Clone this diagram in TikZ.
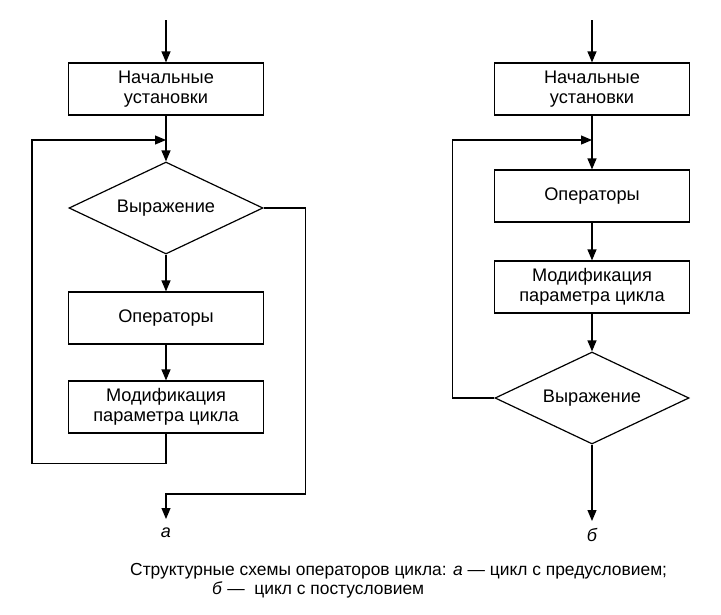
\documentclass[tikz,border=0pt]{standalone}
\usepackage{fontspec}
\setmainfont{Liberation Sans}
\usetikzlibrary{arrows.meta,shapes.geometric}

\begin{document}
\begin{tikzpicture}[
  x=1pt,y=1pt,
  block/.style={
    draw=black,
    line width=1.2pt,
    align=center,
    inner sep=0pt,
    minimum width=195pt,
    minimum height=52pt,
    font=\fontsize{18.2}{20.5}\selectfont
  },
  test/.style={
    block,
    shape=diamond,
    aspect=2.1,
    minimum width=194pt,
    minimum height=92pt
  },
  flow/.style={
    -{Triangle[length=11pt,width=9pt]},
    draw=black,
    line width=1.2pt
  },
  tag/.style={font=\fontsize{18}{20}\selectfont\itshape},
  caption/.style={anchor=west,inner sep=0pt,font=\fontsize{17.4}{19}\selectfont}
]
\useasboundingbox (0,0) rectangle (721,-614);

% Loop with precondition (a)
\coordinate (startA) at (166,-20);
\node[block] (initA) at (166,-89) {Начальные\\установки};
\coordinate (mergeA) at (166,-140);
\node[test] (diaA) at (166,-208) {Выражение};
\node[block] (opsA) at (166,-318) {Операторы};
\node[block] (modA) at (166,-407) {Модификация\\параметра цикла};
\coordinate (loopA) at (32,-140);
\coordinate (outA) at (166,-519);
\node[tag] (tagA) at (166,-533) {а};

% Loop with postcondition (b)
\coordinate (startB) at (592,-20);
\node[block] (initB) at (592,-89) {Начальные\\установки};
\coordinate (mergeB) at (592,-140);
\node[block] (opsB) at (592,-196) {Операторы};
\node[block] (modB) at (592,-287) {Модификация\\параметра цикла};
\node[test] (diaB) at (592,-398) {Выражение};
\coordinate (outB) at (592,-521);
\node[tag] (tagB) at (592,-535) {б};

% Caption
\node[caption] (capA) at (130,-571)
  {Структурные схемы операторов цикла: \textit{а} — цикл с предусловием;};
\node[caption] (capB) at (212,-590)
  {\textit{б} —\ \ цикл с постусловием};

% Connectors (a)
\draw[flow] (startA) -- (initA);
\draw[flow] (initA) -- (diaA);
\draw[flow] (diaA) -- (opsA);
\draw[flow] (opsA) -- (modA);
\draw[flow] (modA.south) -- ++(0,-30) -| (loopA) -- (mergeA);
\draw[flow] (diaA.east) -- ++(42,0) |- ([yshift=25pt]outA) -- (outA);

% Connectors (b)
\draw[flow] (startB) -- (initB);
\draw[flow] (initB) -- (opsB);
\draw[flow] (opsB) -- (modB);
\draw[flow] (modB) -- (diaB);
\draw[flow] (diaB) -- (outB);
\draw[flow] (diaB.west) -- ++(-42,0) |- (mergeB);
\end{tikzpicture}
\end{document}
